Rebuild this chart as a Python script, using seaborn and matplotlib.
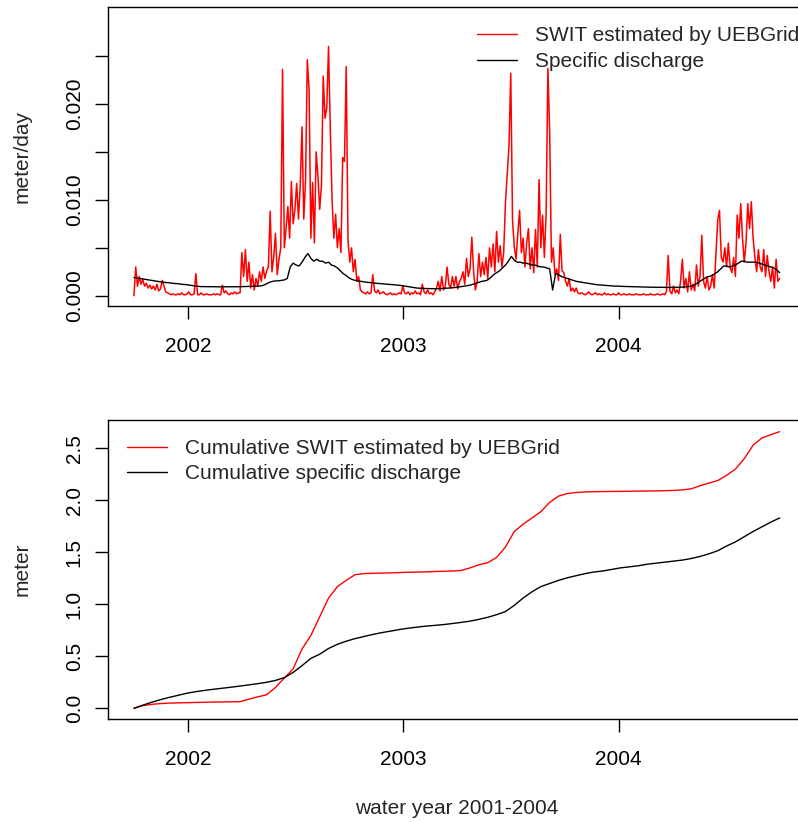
import numpy as np
import pandas as pd
import matplotlib
matplotlib.use("Agg")
import matplotlib.pyplot as plt
from matplotlib.lines import Line2D
import seaborn as sns

sns.set_style("white")
plt.rcParams["font.family"] = ["Liberation Sans", "DejaVu Sans"]

# ---- data -------------------------------------------------------------
start = "2001-10-01"

# SWIT estimated by UEBGrid, every 3rd day of WY2002-2004 (mm/day)
swit_mm = [
    0.0, 3.0, 1.0, 2.0, 1.2, 1.7, 1.0, 1.3, 0.8, 1.1,
    0.7, 1.0, 0.6, 1.2, 0.5, 0.7, 1.6, 1.0, 0.4, 0.3,
    0.2, 0.1, 0.2, 0.1, 0.1, 0.2, 0.1, 0.3, 0.1, 0.1,
    0.2, 0.4, 0.1, 0.1, 0.2, 2.3, 0.1, 0.1, 0.3, 0.1,
    0.1, 0.2, 0.1, 0.1, 0.1, 0.2, 0.1, 0.2, 0.1, 0.1,
    1.1, 0.3, 0.5, 0.2, 0.1, 0.3, 0.2, 0.4, 0.2, 0.3,
    0.3, 4.5, 2.0, 4.8, 1.5, 3.5, 0.8, 2.2, 0.6, 1.8,
    1.0, 2.5, 1.5, 3.0, 1.8, 2.6, 3.0, 8.8, 2.5, 4.0,
    6.5, 2.2, 3.8, 5.0, 23.6, 5.0, 7.0, 9.3, 6.0, 11.9,
    7.5, 9.0, 11.7, 8.0, 11.5, 17.6, 8.0, 12.0, 24.6, 21.5,
    6.0, 11.8, 5.5, 15.0, 12.5, 9.0, 11.5, 22.9, 18.5, 19.6,
    26.0, 17.3, 10.0, 6.0, 8.5, 5.0, 7.0, 4.5, 14.4, 14.0,
    23.9, 5.8, 3.5, 5.0, 2.5, 3.8, 1.5, 2.0, 0.6, 0.4,
    0.3, 0.2, 0.4, 0.2, 0.3, 2.2, 0.5, 0.3, 0.6, 0.2,
    0.3, 0.4, 0.2, 0.1, 0.2, 0.3, 0.1, 0.2, 0.1, 0.2,
    0.3, 0.2, 1.0, 0.3, 0.2, 0.4, 0.1, 0.3, 0.2, 0.5,
    0.2, 0.3, 0.1, 1.2, 0.4, 0.2, 0.6, 0.2, 0.3, 0.1,
    0.4, 0.8, 1.5, 0.5, 2.0, 0.6, 1.0, 3.0, 1.2, 0.8,
    2.0, 1.0, 2.0, 0.7, 1.5, 1.8, 2.5, 1.2, 3.9, 2.0,
    2.8, 6.1, 2.5, 0.6, 1.5, 4.4, 2.0, 3.5, 2.2, 4.0,
    1.8, 5.0, 3.0, 5.4, 2.5, 6.7, 3.5, 5.2, 3.0, 4.5,
    9.7, 12.6, 15.6, 23.2, 7.9, 5.1, 3.8, 6.5, 8.9, 4.5,
    6.0, 3.0, 5.5, 7.0, 2.8, 5.0, 2.4, 6.9, 3.0, 12.1,
    5.0, 8.4, 4.0, 8.6, 23.7, 17.1, 3.5, 5.0, 2.2, 2.8,
    1.6, 6.4, 2.6, 2.4, 1.5, 1.0, 1.8, 0.5, 0.8, 0.4,
    0.8, 0.3, 0.2, 0.3, 0.2, 0.1, 0.2, 0.4, 0.2, 0.1,
    0.2, 0.3, 0.1, 0.2, 0.1, 0.1, 0.3, 0.1, 0.2, 0.1,
    0.1, 0.2, 0.1, 0.1, 0.3, 0.1, 0.1, 0.2, 0.1, 0.1,
    0.2, 0.1, 0.1, 0.1, 0.2, 0.1, 0.1, 0.1, 0.2, 0.1,
    0.1, 0.1, 0.2, 0.1, 0.1, 0.1, 0.2, 0.1, 0.1, 0.2,
    0.1, 0.4, 4.2, 0.5, 0.2, 1.0, 0.3, 0.6, 0.2, 1.5,
    3.8, 0.8, 1.8, 0.4, 2.5, 0.6, 1.2, 0.5, 3.2, 1.0,
    2.0, 6.3, 1.5, 0.8, 2.0, 0.6, 1.0, 2.2, 0.8, 4.4,
    7.9, 8.9, 4.0, 3.5, 5.0, 3.0, 5.5, 3.0, 2.4, 4.0,
    2.0, 8.4, 6.0, 9.6, 6.0, 3.5, 5.5, 9.6, 7.0, 9.8,
    6.0, 4.0, 2.5, 4.8, 3.0, 2.5, 4.8, 2.0, 4.2, 2.5,
    1.5, 3.0, 0.8, 3.8, 1.5, 1.8,
]

# Specific discharge, every 5th day (mm/day)
discharge_mm = [
    1.9, 1.85, 1.8, 1.75, 1.7, 1.65, 1.6, 1.55, 1.5, 1.45,
    1.4, 1.38, 1.35, 1.3, 1.28, 1.25, 1.2, 1.18, 1.15, 1.1,
    1.05, 1.0, 0.97, 0.95, 0.95, 0.95, 0.94, 0.94, 0.93, 0.93,
    0.93, 0.92, 0.92, 0.92, 0.93, 0.93, 0.94, 0.95, 0.95, 0.96,
    0.97, 0.98, 1.0, 1.02, 1.1, 1.25, 1.4, 1.5, 1.55, 1.55,
    1.6, 1.65, 1.8, 3.0, 3.4, 3.2, 3.1, 3.5, 4.0, 4.4,
    3.9, 3.6, 3.8, 3.6, 3.6, 3.4, 3.5, 3.2, 3.1, 2.9,
    2.6, 2.3, 2.1, 1.85, 1.7, 1.6, 1.55, 1.5, 1.45, 1.4,
    1.38, 1.35, 1.3, 1.28, 1.25, 1.22, 1.2, 1.18, 1.15, 1.12,
    1.1, 1.05, 1.0, 0.95, 0.9, 0.85, 0.8, 0.78, 0.76, 0.75,
    0.74, 0.73, 0.73, 0.73, 0.74, 0.76, 0.78, 0.8, 0.83, 0.86,
    0.9, 0.95, 1.0, 1.05, 1.1, 1.2, 1.3, 1.4, 1.5, 1.55,
    1.65, 1.9, 2.2, 2.4, 2.6, 2.9, 3.2, 3.6, 4.1, 3.7,
    3.5, 3.5, 3.4, 3.4, 3.3, 3.2, 3.2, 3.1, 3.0, 3.0,
    2.9, 2.8, 0.6, 2.3, 2.2, 2.0, 1.9, 1.8, 1.7, 1.6,
    1.5, 1.45, 1.4, 1.35, 1.3, 1.25, 1.2, 1.15, 1.12, 1.1,
    1.08, 1.05, 1.03, 1.0, 1.0, 0.98, 0.97, 0.96, 0.95, 0.94,
    0.93, 0.92, 0.91, 0.9, 0.9, 0.89, 0.89, 0.88, 0.88, 0.88,
    0.87, 0.87, 0.87, 0.87, 0.88, 0.88, 0.9, 0.92, 0.95, 1.0,
    1.1, 1.3, 1.5, 1.7, 1.9, 2.0, 2.1, 2.3, 2.5, 2.8,
    3.1, 3.1, 3.0, 3.1, 3.2, 3.4, 3.6, 3.6, 3.5, 3.5,
    3.5, 3.5, 3.4, 3.3, 3.2, 3.1, 3.0, 2.9, 2.7, 2.4,
]

# Cumulative totals, every 15th day (m)
cum_swit_m = [
    0.00, 0.025, 0.038, 0.045, 0.050, 0.052, 0.054, 0.056, 0.058, 0.060,
    0.061, 0.062, 0.064, 0.088, 0.11, 0.13, 0.20, 0.29, 0.38, 0.57,
    0.70, 0.88, 1.06, 1.17, 1.23, 1.285, 1.295, 1.298, 1.30, 1.302,
    1.305, 1.308, 1.31, 1.312, 1.315, 1.318, 1.32, 1.325, 1.35, 1.38,
    1.40, 1.45, 1.55, 1.70, 1.77, 1.83, 1.89, 1.98, 2.04, 2.065,
    2.075, 2.08, 2.082, 2.084, 2.085, 2.086, 2.087, 2.088, 2.089, 2.09,
    2.092, 2.095, 2.10, 2.11, 2.14, 2.165, 2.19, 2.24, 2.30, 2.40,
    2.53, 2.60, 2.63, 2.66,
]
cum_discharge_m = [
    0.00, 0.030, 0.058, 0.083, 0.105, 0.125, 0.145, 0.160, 0.172, 0.183,
    0.193, 0.203, 0.214, 0.225, 0.237, 0.250, 0.268, 0.295, 0.345, 0.41,
    0.48, 0.52, 0.575, 0.615, 0.645, 0.67, 0.69, 0.71, 0.727, 0.742,
    0.757, 0.77, 0.78, 0.79, 0.797, 0.805, 0.815, 0.826, 0.838, 0.855,
    0.875, 0.90, 0.93, 0.99, 1.06, 1.12, 1.17, 1.20, 1.23, 1.255,
    1.275, 1.295, 1.31, 1.32, 1.335, 1.35, 1.36, 1.37, 1.385, 1.395,
    1.405, 1.415, 1.425, 1.44, 1.46, 1.485, 1.515, 1.56, 1.60, 1.65,
    1.70, 1.745, 1.79, 1.83,
]

year_ticks = ["2002", "2003", "2004"]
top_yticks = [0.0, 0.005, 0.010, 0.015, 0.020, 0.025]
top_ylabels = ["0.000", "", "0.010", "", "0.020", ""]
bot_yticks = [0.0, 0.5, 1.0, 1.5, 2.0, 2.5]
bot_ylabels = ["0.0", "0.5", "1.0", "1.5", "2.0", "2.5"]

daily = pd.DataFrame({
    "date": pd.date_range(start, periods=len(swit_mm), freq="3D"),
    "swit": np.array(swit_mm) / 1000.0,
})
flow = pd.DataFrame({
    "date": pd.date_range(start, periods=len(discharge_mm), freq="5D"),
    "q": np.array(discharge_mm) / 1000.0,
})
cum = pd.DataFrame({
    "date": pd.date_range(start, periods=len(cum_swit_m), freq="15D"),
    "swit": cum_swit_m,
    "q": cum_discharge_m,
})

# ---- figure -----------------------------------------------------------
W, H = 798, 823
fig = plt.figure(figsize=(W / 100, H / 100), dpi=100)


def panel(left, top, right, bottom):
    return fig.add_axes([left / W, 1 - bottom / H, (right - left) / W, (bottom - top) / H])


ax1 = panel(108, 7, 805, 306)
ax2 = panel(108, 420, 805, 719)

FS = 15
xlim = (pd.Timestamp("2001-08-18"), pd.Timestamp("2004-11-12"))
year_pos = [pd.Timestamp(f"{y}-01-01") for y in year_ticks]

sns.lineplot(data=daily, x="date", y="swit", ax=ax1, color="red", lw=1.1,
             estimator=None, legend=False)
sns.lineplot(data=flow, x="date", y="q", ax=ax1, color="black", lw=1.0,
             estimator=None, legend=False)

sns.lineplot(data=cum, x="date", y="swit", ax=ax2, color="red", lw=1.0,
             estimator=None, legend=False)
sns.lineplot(data=cum, x="date", y="q", ax=ax2, color="black", lw=1.0,
             estimator=None, legend=False)

ax1.set_ylim(-0.00107, 0.0301)
ax2.set_ylim(-0.103, 2.772)

for ax, yt, yl in ((ax1, top_yticks, top_ylabels), (ax2, bot_yticks, bot_ylabels)):
    ax.set_xlim(*xlim)
    ax.set_xticks(year_pos)
    ax.set_xticklabels(year_ticks)
    ax.set_yticks(yt)
    ax.set_yticklabels(yl)
    ax.set_xlabel("")
    ax.set_ylabel("")
    for s in ax.spines.values():
        s.set_visible(True)
        s.set_color("black")
        s.set_linewidth(1.0)
    ax.tick_params(axis="both", which="major", direction="out", length=9.4,
                   width=1.0, color="black", labelsize=FS, labelcolor="black",
                   left=True, bottom=True, right=False, top=False)
    ax.tick_params(axis="x", pad=13)
    ax.tick_params(axis="y", pad=8)
    for lab in ax.get_yticklabels():
        lab.set_rotation(90)
        lab.set_verticalalignment("center")
    ax.grid(False)

leg_kw = dict(frameon=False, fontsize=FS, handlelength=1.92, handletextpad=0.86,
              borderpad=0, borderaxespad=0, loc="upper left")
ax1.legend([Line2D([], [], color="red", lw=1.0), Line2D([], [], color="black", lw=1.0)],
           ["SWIT estimated by UEBGrid", "Specific discharge"],
           bbox_to_anchor=(0.5294, 0.9356), labelspacing=0.33, **leg_kw)
ax2.legend([Line2D([], [], color="red", lw=1.0), Line2D([], [], color="black", lw=1.0)],
           ["Cumulative SWIT estimated by UEBGrid", "Cumulative specific discharge"],
           bbox_to_anchor=(0.0273, 0.935), labelspacing=0.26, **leg_kw)

fig.text(22.5 / W, 1 - 156.5 / H, "meter/day", rotation=90, ha="center", va="center", fontsize=FS)
fig.text(22.5 / W, 1 - 569.5 / H, "meter", rotation=90, ha="center", va="center", fontsize=FS)
fig.text(456.5 / W, 1 - 808 / H, "water year 2001-2004", ha="center", va="center", fontsize=FS)

fig.savefig("out.png", dpi=100)
